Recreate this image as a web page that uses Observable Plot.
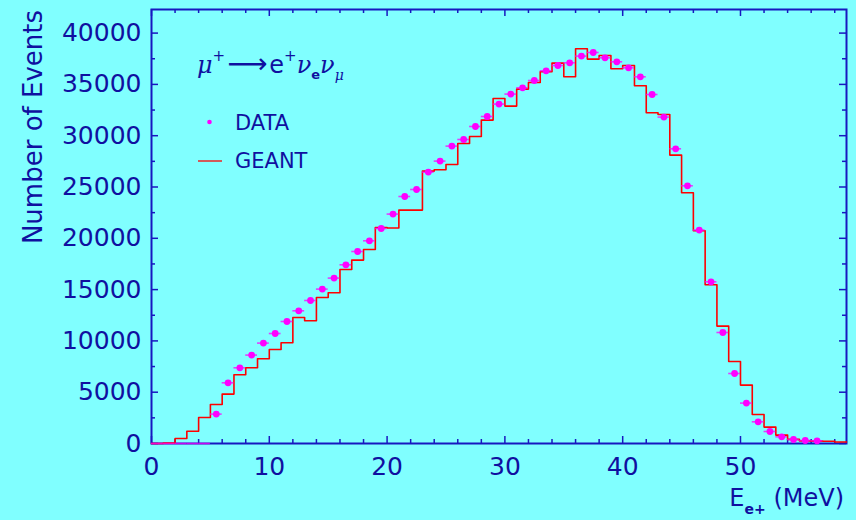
<!DOCTYPE html>
<html><head><meta charset="utf-8">
<script src="https://cdn.jsdelivr.net/npm/d3@7"></script>
<script src="https://cdn.jsdelivr.net/npm/@observablehq/plot@0.6"></script>
<style>
html,body{margin:0;padding:0;background:#80ffff;}
#chart{width:856px;height:520px;}
</style></head><body><div id="chart"></div>
<script>
// ---- data (1 MeV bins starting at 0 MeV) ----
const binStart = 0;       // MeV, low edge of first bin
const binWidth = 1;       // MeV
const xDomain = [0, 59];
const yDomain = [0, 42300];

// GEANT simulation: counts per bin, bins [0,1) ... [58,59)
const geantCounts = [
  0, 40, 487, 1200, 2534, 3800, 4815, 6696, 7378, 8255,
  9162, 9815, 12281, 11959, 14230, 14688, 16959, 17875, 18908, 21053,
  21000, 22749, 22749, 26550, 26676, 27193, 29240, 29922, 31520, 33626,
  32885, 34542, 35185, 36228, 37076, 35741, 38470, 37466, 37817, 36520,
  36842, 34864, 32232, 32066, 28109, 24435, 20731, 15468, 11442, 7992,
  5692, 2826, 1598, 819, 400, 260, 230, 220, 150
];

// DATA: counts per bin, bins [0,1) ... [56,57)
const dataCounts = [
  0, 0, 0, 0, 0, 2865, 5916, 7378, 8616, 9785,
  10721, 11891, 12934, 13938, 15048, 16120, 17417, 18713, 19756, 20955,
  22359, 24074, 24756, 26452, 27524, 28986, 29630, 30897, 31871, 33080,
  34055, 34669, 35380, 36326, 36842, 37105, 37758, 38110, 37593, 37203,
  36618, 35741, 34016, 31813, 28723, 25117, 20799, 15760, 10819, 6823,
  3938, 2115, 1170, 653, 390, 292, 260
];

const xMajorTicks = [0, 10, 20, 30, 40, 50];
const xMinorTicks = [2, 4, 6, 8, 12, 14, 16, 18, 22, 24, 26, 28, 32, 34, 36, 38, 42, 44, 46, 48, 52, 54, 56, 58];
const yMajorTicks = [0, 5000, 10000, 15000, 20000, 25000, 30000, 35000, 40000];
const yMinorTicks = [2500, 7500, 12500, 17500, 22500, 27500, 32500, 37500];

// ---- tables built from the arrays ----
const geantSteps = geantCounts.map((v, i) => ({x: binStart + i * binWidth, y: v}));
geantSteps.push({x: binStart + geantCounts.length * binWidth, y: geantCounts[geantCounts.length - 1]});
const dataPoints = dataCounts.map((v, i) => ({
  x: binStart + (i + 0.5) * binWidth,
  x1: binStart + i * binWidth,
  x2: binStart + (i + 1) * binWidth,
  y: v
}));

const W = 856, H = 520;
const mL = 151, mR = 10, mT = 9, mB = 77;
const innerW = W - mL - mR, innerH = H - mT - mB;
const textBlue = "#1010a0";
const axisBlue = "#1818c0";

const plot = Plot.plot({
  width: W, height: H,
  marginLeft: mL, marginRight: mR, marginTop: mT, marginBottom: mB,
  x: {domain: xDomain},
  y: {domain: yDomain},
  style: {background: "#80ffff", fontFamily: "DejaVu Sans", color: textBlue, overflow: "visible"},
  marks: [
    Plot.frame({stroke: axisBlue, strokeWidth: 2}),
    Plot.tickX(xMajorTicks, {x: d => d, insetTop: innerH - 7, stroke: axisBlue, strokeWidth: 1.5}),
    Plot.tickX(xMajorTicks, {x: d => d, insetBottom: innerH - 7, stroke: axisBlue, strokeWidth: 1.5}),
    Plot.tickX(xMinorTicks, {x: d => d, insetTop: innerH - 4, stroke: axisBlue, strokeWidth: 1.5}),
    Plot.tickX(xMinorTicks, {x: d => d, insetBottom: innerH - 4, stroke: axisBlue, strokeWidth: 1.5}),
    Plot.tickY(yMajorTicks, {y: d => d, insetRight: innerW - 7, stroke: axisBlue, strokeWidth: 1.5}),
    Plot.tickY(yMajorTicks, {y: d => d, insetLeft: innerW - 7, stroke: axisBlue, strokeWidth: 1.5}),
    Plot.tickY(yMinorTicks, {y: d => d, insetRight: innerW - 4, stroke: axisBlue, strokeWidth: 1.5}),
    Plot.tickY(yMinorTicks, {y: d => d, insetLeft: innerW - 4, stroke: axisBlue, strokeWidth: 1.5}),
    Plot.axisX(xMajorTicks, {tickSize: 0, tickPadding: 14, fontSize: 25, fill: textBlue, label: null, tickFormat: d => String(d)}),
    Plot.axisY(yMajorTicks, {tickSize: 0, tickPadding: 10, fontSize: 25, fill: textBlue, label: null, tickFormat: d => String(d)}),
    Plot.line(geantSteps, {x: "x", y: "y", curve: "step-after", stroke: "#ff0000", strokeWidth: 1.6}),
    Plot.ruleY(dataPoints, {y: "y", x1: "x1", x2: "x2", stroke: "#ff00ff", strokeWidth: 1.6, strokeOpacity: 0.75}),
    Plot.dot(dataPoints.filter(d => d.y > 0), {x: "x", y: "y", r: 3.4, fill: "#ff00ff", stroke: "none"})
  ]
});
document.getElementById("chart").appendChild(plot);

// ---- annotations: axis titles and legend ----
const svg = d3.select(plot);
const g = svg.append("g").attr("fill", textBlue).attr("text-anchor", "start").style("font-family", "DejaVu Sans");

// y-axis title (top aligned, rotated)
g.append("text")
  .attr("transform", "translate(33,10) rotate(-90)")
  .attr("text-anchor", "end").attr("dy", "0.36em")
  .style("font-size", "26px").text("Number of Events");

// x-axis title E_{e+} (MeV)
const xt = g.append("text").attr("x", 844).attr("y", 506).attr("text-anchor", "end").style("font-size", "24px");
xt.append("tspan").text("E");
xt.append("tspan").attr("dy", 8).style("font-size", "14px").style("font-weight", "bold").text("e+");
xt.append("tspan").attr("dy", -8).text(" (MeV)");

// process formula mu+ -> e+ nu_e nu_mu
const serif = "DejaVu Serif";
const f = g.append("text").attr("x", 197).attr("y", 73).attr("text-anchor", "start").style("font-size", "24px");
f.append("tspan").style("font-family", serif).style("font-style", "italic").text("\u03bc");
f.append("tspan").attr("dy", -12).style("font-size", "15px").text("+");
f.append("tspan").attr("dy", 12).attr("dx", 2).style("font-size", "28px").text("\u27f6");
f.append("tspan").attr("dx", 2).text("e");
f.append("tspan").attr("dy", -12).style("font-size", "15px").text("+");
f.append("tspan").attr("dy", 12).style("font-family", serif).style("font-style", "italic").text("\u03bd");
f.append("tspan").attr("dy", 6).style("font-size", "13px").style("font-weight", "bold").text("e");
f.append("tspan").attr("dy", -6).style("font-family", serif).style("font-style", "italic").text("\u03bd");
f.append("tspan").attr("dy", 7).style("font-size", "14px").style("font-family", serif).style("font-style", "italic").text("\u03bc");

// legend
g.append("circle").attr("cx", 209.5).attr("cy", 122).attr("r", 2.3).attr("fill", "#ff00ff");
g.append("text").attr("x", 235).attr("y", 130).attr("text-anchor", "start").style("font-size", "21px").text("DATA");
g.append("line").attr("x1", 198).attr("x2", 222).attr("y1", 161).attr("y2", 161)
  .attr("stroke", "#ff0000").attr("stroke-width", 1.3);
g.append("text").attr("x", 235).attr("y", 168).attr("text-anchor", "start").style("font-size", "21px").text("GEANT");
</script>
</body></html>
